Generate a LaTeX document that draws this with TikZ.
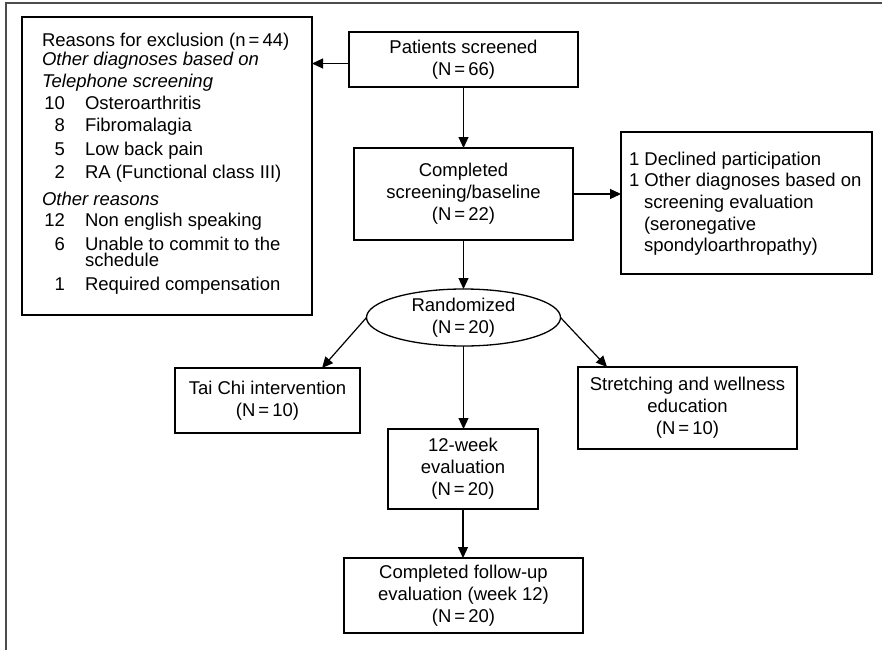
\documentclass[tikz,border=0pt]{standalone}
\usepackage{fontspec}
\setmainfont{Liberation Sans}
\usetikzlibrary{arrows.meta,shapes.geometric}
\begin{document}
\begin{tikzpicture}[x=1pt,y=-1pt,
  every node/.style={inner sep=0pt, outer sep=0pt, font=\fontsize{18.5}{22}\selectfont},
  flowbox/.style={draw, line width=1.3pt, rectangle, align=center},
  line/.style={base left},
  arr/.style={line width=1.2pt, -{Triangle[length=11pt,width=10pt]}}
]
\tikzset{base left/.style={anchor=base west}, base right/.style={anchor=base east}}
% page frame
\useasboundingbox (0,0) rectangle (882,650);
\fill[white] (0,0) rectangle (882,650);
\draw[line width=2.5pt, color=black!70] (6,650) -- (6,3) -- (882,3);

% exclusion box
\node[flowbox, minimum width=290pt, minimum height=298pt] (excl) at (167,166) {};
\node[base left] (e1) at (42,46.7) {Reasons for exclusion (n\,=\,44)};
\node[base left] (e2) at (42,65.7) {\itshape Other diagnoses based on};
\node[base left] (e3) at (42,87.3) {\itshape Telephone screening};
\node[base right] (n1) at (65,110) {10};
\node[base left] (t1) at (85,110) {Osteroarthritis};
\node[base right] (n2) at (65,131.7) {8};
\node[base left] (t2) at (85,131.7) {Fibromalagia};
\node[base right] (n3) at (65,155) {5};
\node[base left] (t3) at (85,155) {Low back pain};
\node[base right] (n4) at (65,178) {2};
\node[base left] (t4) at (85,178) {RA (Functional class III)};
\node[base left] (e4) at (42,205) {\itshape Other reasons};
\node[base right] (n5) at (65,226.7) {12};
\node[base left] (t5) at (85,226.7) {Non english speaking};
\node[base right] (n6) at (65,250) {6};
\node[base left] (t6) at (85,250) {Unable to commit to the};
\node[base left] (t6b) at (85,266.7) {schedule};
\node[base right] (n7) at (65,290) {1};
\node[base left] (t7) at (85,290) {Required compensation};

% main column
\node[flowbox, minimum width=229pt, minimum height=55pt] (screened) at (463.5,59.5)
  {Patients screened\\(N\,=\,66)};
\node[flowbox, minimum width=219pt, minimum height=92pt] (completed) at (463.5,194)
  {Completed\\screening/baseline\\(N\,=\,22)};

% declined box
\node[flowbox, minimum width=251pt, minimum height=142pt] (declined) at (746.5,203) {};
\node[base left] (d1) at (629,165) {1 Declined participation};
\node[base left] (d2) at (629,186.7) {1 Other diagnoses based on};
\node[base left] (d3) at (644,208) {screening evaluation};
\node[base left] (d4) at (644,230) {(seronegative};
\node[base left] (d5) at (644,251.7) {spondyloarthropathy)};

% randomisation and arms
\node[draw, line width=1.3pt, ellipse, minimum width=194pt, minimum height=57pt, align=center] (rand) at (463.5,317.5)
  {Randomized\\(N\,=\,20)};
\node[flowbox, minimum width=185pt, minimum height=65pt] (taichi) at (267.5,400.5)
  {Tai Chi intervention\\(N\,=\,10)};
\node[flowbox, minimum width=219pt, minimum height=82pt] (stretch) at (687.5,408)
  {Stretching and wellness\\education\\(N\,=\,10)};
\node[flowbox, minimum width=150pt, minimum height=80pt] (week) at (463,469)
  {12-week\\evaluation\\(N\,=\,20)};
\node[flowbox, minimum width=239pt, minimum height=75pt] (follow) at (463.5,595.5)
  {Completed follow-up\\evaluation (week 12)\\(N\,=\,20)};

% connectors
\draw[arr] ([yshift=-4pt]screened.west) -- ([yshift=-4pt]screened.west -| excl.east);
\draw[arr] (screened.south) -- (completed.north);
\draw[arr] (completed.east) -- (completed.east -| declined.west);
\draw[arr] (completed.south) -- (rand.north);
\draw[arr] (rand.west) -- ([xshift=147pt]taichi.north west);
\draw[arr] (rand.east) -- ([xshift=29pt]stretch.north west);
\draw[arr] (rand.south) -- (rand.south |- week.north);
\draw[arr] (week.south) -- (week.south |- follow.north);
\end{tikzpicture}
\end{document}
